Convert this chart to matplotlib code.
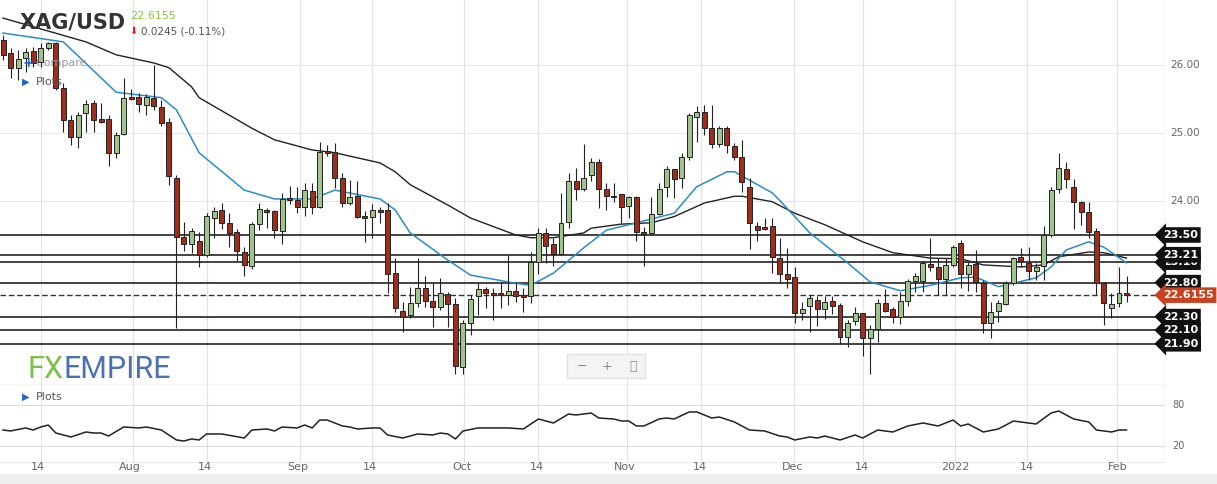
import matplotlib
matplotlib.use("Agg")
import matplotlib.pyplot as plt
from matplotlib.transforms import blended_transform_factory
import numpy as np

# daily XAG/USD candles, mid-Jul 2021 .. early Feb 2022
opens = [26.37, 26.18, 25.96, 26.10, 26.21, 26.04, 26.25, 26.32, 25.66, 25.19,
         24.94, 25.29, 25.44, 25.21, 25.21, 24.71, 24.99, 25.53, 25.53, 25.41,
         25.52, 25.38, 25.16, 24.34, 23.47, 23.37, 23.41, 23.21, 23.75, 23.87,
         23.68, 23.54, 23.25, 23.04, 23.66, 23.87, 23.85, 23.56, 24.04, 24.01,
         23.91, 24.15, 23.91, 24.74, 24.72, 24.34, 23.97, 24.07, 23.78, 23.76,
         23.87, 23.87, 22.94, 22.38, 22.32, 22.50, 22.72, 22.53, 22.44, 22.63,
         22.49, 21.56, 22.21, 22.60, 22.71, 22.65, 22.65, 22.62, 22.68, 22.62,
         22.60, 23.10, 23.53, 23.37, 23.22, 23.69, 24.29, 24.18, 24.38, 24.57,
         24.18, 24.07, 24.10, 23.93, 24.06, 23.54, 23.53, 23.81, 24.21, 24.47,
         24.34, 24.65, 25.24, 25.31, 25.07, 24.84, 25.07, 24.81, 24.65, 24.21,
         23.63, 23.62, 23.63, 23.16, 22.93, 22.88, 22.35, 22.46, 22.54, 22.41,
         22.53, 22.47, 22.00, 22.24, 22.35, 21.99, 22.12, 22.50, 22.41, 22.29,
         22.53, 22.82, 22.82, 23.07, 23.03, 22.85, 23.06, 23.38, 22.93, 23.07,
         22.79, 22.21, 22.38, 22.49, 22.79, 23.18, 23.09, 22.97, 23.04, 23.50,
         24.18, 24.47, 24.21, 23.99, 23.84, 23.56, 22.79, 22.43, 22.50, 22.63]
highs = [26.44, 26.25, 26.22, 26.25, 26.26, 26.32, 26.34, 26.34, 25.74, 25.26,
         25.31, 25.49, 25.49, 25.44, 25.26, 25.01, 25.81, 25.65, 25.59, 25.57,
         26.00, 25.49, 25.22, 24.38, 23.69, 23.60, 23.54, 23.82, 23.91, 23.97,
         23.82, 23.59, 23.32, 23.69, 23.97, 23.90, 23.87, 24.12, 24.22, 24.21,
         24.27, 24.27, 24.87, 24.82, 24.85, 24.41, 24.31, 24.29, 23.85, 23.96,
         23.91, 23.97, 23.16, 22.51, 22.74, 23.16, 22.90, 22.81, 22.87, 22.66,
         22.57, 22.25, 22.62, 22.81, 22.74, 22.72, 22.81, 23.21, 22.81, 22.72,
         23.25, 23.60, 23.60, 23.46, 24.12, 24.41, 24.49, 24.84, 24.63, 24.62,
         24.27, 24.27, 24.10, 24.07, 24.07, 23.62, 24.06, 24.27, 24.51, 24.47,
         24.71, 25.29, 25.40, 25.41, 25.41, 25.10, 25.10, 24.85, 24.90, 24.34,
         23.69, 23.75, 23.75, 23.46, 23.31, 23.03, 22.51, 22.62, 22.60, 22.60,
         22.60, 22.50, 22.25, 22.44, 22.35, 22.18, 22.56, 22.71, 22.44, 22.66,
         22.85, 22.94, 23.12, 23.46, 23.16, 23.16, 23.35, 23.43, 23.10, 23.28,
         22.84, 22.51, 22.54, 22.82, 23.18, 23.31, 23.32, 23.09, 23.63, 24.21,
         24.71, 24.57, 24.32, 24.00, 23.99, 23.60, 22.81, 22.65, 23.03, 22.90]
lows = [26.07, 25.81, 25.78, 25.90, 25.97, 25.97, 26.22, 25.63, 25.01, 24.82,
        24.78, 25.01, 25.01, 25.15, 24.51, 24.63, 24.97, 25.49, 25.31, 25.26,
        25.34, 25.10, 24.24, 22.13, 23.27, 23.24, 23.03, 23.18, 23.46, 23.59,
        23.32, 23.12, 22.90, 23.00, 23.57, 23.60, 23.46, 23.37, 23.96, 23.82,
        23.78, 23.81, 23.90, 24.66, 24.19, 23.91, 23.94, 23.75, 23.40, 23.46,
        23.68, 22.65, 22.37, 22.07, 22.28, 22.44, 22.44, 22.15, 22.40, 22.15,
        21.46, 21.46, 22.03, 22.32, 22.43, 22.25, 22.43, 22.47, 22.51, 22.37,
        22.50, 22.93, 23.09, 23.04, 23.21, 23.60, 24.01, 24.15, 24.29, 23.90,
        23.87, 23.99, 23.68, 23.75, 23.41, 23.04, 23.51, 23.79, 24.06, 24.04,
        24.19, 24.60, 24.87, 24.97, 24.78, 24.79, 24.71, 24.60, 24.13, 23.29,
        23.41, 23.57, 22.94, 22.79, 22.72, 22.21, 22.25, 22.07, 22.16, 22.26,
        22.34, 21.90, 21.85, 22.18, 21.72, 21.46, 21.93, 22.37, 22.21, 22.19,
        22.46, 22.66, 22.66, 22.97, 22.62, 22.62, 23.03, 22.72, 22.68, 22.66,
        22.06, 21.99, 22.22, 22.47, 22.76, 23.03, 22.84, 22.84, 22.84, 23.47,
        24.12, 24.19, 23.59, 23.65, 23.46, 22.62, 22.18, 22.28, 22.44, 22.51]
closes = [26.15, 25.96, 26.09, 26.19, 26.03, 26.25, 26.32, 25.66, 25.19, 24.94,
          25.26, 25.43, 25.19, 25.16, 24.71, 24.97, 25.52, 25.50, 25.43, 25.53,
          25.40, 25.15, 24.37, 23.47, 23.37, 23.56, 23.21, 23.78, 23.85, 23.68,
          23.53, 23.27, 23.06, 23.66, 23.88, 23.84, 23.57, 24.03, 24.01, 23.91,
          24.16, 23.91, 24.72, 24.71, 24.34, 23.97, 24.06, 23.76, 23.75, 23.87,
          23.84, 22.93, 22.43, 22.29, 22.50, 22.72, 22.53, 22.44, 22.65, 22.49,
          21.57, 22.21, 22.56, 22.71, 22.65, 22.62, 22.62, 22.68, 22.60, 22.59,
          23.10, 23.53, 23.34, 23.22, 23.68, 24.29, 24.18, 24.34, 24.57, 24.18,
          24.07, 24.06, 23.91, 24.06, 23.54, 23.51, 23.81, 24.18, 24.47, 24.32,
          24.65, 25.26, 25.31, 25.07, 24.84, 25.07, 24.82, 24.65, 24.28, 23.68,
          23.57, 23.59, 23.18, 22.93, 22.85, 22.35, 22.41, 22.57, 22.41, 22.51,
          22.46, 22.00, 22.21, 22.35, 21.99, 22.12, 22.50, 22.38, 22.29, 22.53,
          22.82, 22.90, 23.09, 23.03, 22.85, 23.06, 23.32, 22.93, 23.06, 22.81,
          22.21, 22.37, 22.50, 22.79, 23.16, 23.12, 22.97, 23.03, 23.50, 24.16,
          24.49, 24.32, 23.99, 23.84, 23.54, 22.79, 22.50, 22.49, 22.65, 22.62]

# moving averages, sampled at candle indices
ma_fast_idx = [0, 8, 15, 21, 23, 26, 32, 36, 41, 44, 50, 52, 54, 59, 62, 68, 70, 73, 77, 80,
               84, 89, 92, 96, 97, 102, 103, 107, 112, 115, 119, 123, 127, 129, 132, 137,
               139, 141, 144, 146, 149]
ma_fast = [26.47, 26.34, 25.60, 25.52, 25.34, 24.71, 24.16, 24.03, 24.03, 24.16, 24.03,
           23.87, 23.53, 23.13, 22.91, 22.79, 22.76, 22.94, 23.31, 23.57, 23.68, 23.82,
           24.21, 24.43, 24.43, 24.12, 24.01, 23.53, 23.09, 22.81, 22.68, 22.76, 22.87,
           22.88, 22.74, 22.87, 23.03, 23.28, 23.40, 23.32, 23.09]
ma_slow_idx = [0, 11, 15, 20, 22, 25, 26, 33, 36, 41, 44, 50, 52, 54, 59, 62, 68, 70, 73, 77,
               78, 82, 86, 89, 93, 97, 98, 102, 105, 109, 114, 118, 123, 127, 130, 135, 138,
               140, 144, 146, 149]
ma_slow = [26.69, 26.34, 26.15, 26.03, 25.96, 25.68, 25.52, 25.07, 24.90, 24.75, 24.71,
           24.56, 24.43, 24.24, 23.94, 23.75, 23.50, 23.46, 23.46, 23.53, 23.60, 23.66,
           23.68, 23.77, 23.97, 24.07, 24.07, 23.99, 23.82, 23.65, 23.40, 23.24, 23.16,
           23.15, 23.06, 23.03, 23.06, 23.18, 23.25, 23.24, 23.16]

# oscillator in lower pane
osc_idx = [0, 1, 3, 4, 5, 6, 7, 9, 11, 12, 13, 14, 16, 18, 19, 21, 23, 24, 25, 26,
           27, 29, 32, 33, 35, 36, 37, 39, 40, 41, 42, 43, 45, 46, 47, 49, 50, 51, 53, 55,
           57, 58, 59, 60, 61, 63, 65, 67, 69, 71, 73, 75, 76, 78, 79, 81, 82, 83, 84, 85,
           87, 88, 89, 91, 92, 94, 95, 97, 99, 101, 103, 104, 105, 107, 108, 109, 111, 113,
           114, 116, 118, 120, 122, 124, 126, 127, 128, 130, 132, 134, 135, 137, 139, 140,
           142, 144, 145, 147, 148, 149]
osc = [43.4, 42.0, 46.4, 43.4, 47.8, 50.7, 39.0, 33.2, 40.5, 39.0, 39.0, 34.6, 47.8, 46.4,
       47.8, 43.4, 28.8, 27.3, 30.3, 28.8, 37.6, 37.6, 31.7, 43.4, 44.9, 42.0, 47.8, 46.4,
       50.7, 46.4, 58.0, 58.0, 49.3, 47.8, 44.9, 46.4, 46.4, 36.1, 31.7, 37.6, 36.1, 39.0,
       37.6, 30.3, 42.0, 46.4, 46.4, 46.4, 44.9, 59.5, 53.7, 66.8, 65.4, 68.3, 61.0, 59.5,
       56.6, 56.6, 49.3, 49.3, 59.5, 61.0, 59.5, 69.8, 69.8, 61.0, 62.4, 55.1, 43.4, 42.0,
       34.6, 33.2, 28.8, 33.2, 31.7, 34.6, 28.8, 36.1, 31.7, 43.4, 40.5, 49.3, 53.7, 49.3,
       58.0, 49.3, 52.2, 40.5, 44.9, 56.6, 55.1, 52.2, 68.3, 71.2, 59.5, 55.1, 43.4, 40.5,
       43.4, 43.4]

levels = [23.50, 23.21, 23.10, 22.80, 22.30, 22.10, 21.90]
last_price = 22.6155

tick_pos = [5.0, 17.2, 27.1, 39.4, 48.9, 61.1, 71.0, 82.7, 92.6, 104.9, 114.0, 126.3, 135.8, 147.8]
tick_labels = ["14", "Aug", "14", "Sep", "14", "Oct", "14", "Nov", "14", "Dec", "14", "2022", "14", "Feb"]

W, H = 1217, 484
fig = plt.figure(figsize=(W / 100, H / 100), dpi=100)
fig.patch.set_facecolor("#eeeeee")
fig.patches.append(plt.Rectangle((0, 10 / H), 1, 1 - 10 / H, transform=fig.transFigure,
                                 facecolor="white", edgecolor="none", zorder=-5))

ax = fig.add_axes([0, (H - 385) / H, 1165 / W, 385 / H])
ax2 = fig.add_axes([0, (H - 463) / H, 1165 / W, 78 / H], sharex=ax)
ax.set_xlim(-0.4, 154.1)
ax.set_ylim(21.294, 26.956)
ax2.set_ylim(-4.9, 109.3)
for a in (ax, ax2):
    a.set_facecolor("none")
    for s in a.spines.values():
        s.set_visible(False)
    a.tick_params(left=False, right=False, bottom=False, top=False,
                  labelleft=False, labelbottom=False)
    for t in tick_pos:
        a.axvline(t, color="#e2e2e2", lw=0.8, zorder=0)
    a.axvline(154.1, color="#cccccc", lw=1)

for p in [26, 25, 24]:
    ax.axhline(p, color="#e8e8e8", lw=0.8, zorder=0)
ax.axhline(21.294, color="#cccccc", lw=1)
ax2.axhline(-4.9, color="#999999", lw=1)
for v in (80, 20):
    ax2.axhline(v, color="#dddddd", lw=0.8, zorder=0)

for lv in levels:
    ax.axhline(lv, color="#111111", lw=1.1, zorder=1)
ax.axhline(last_price, color="#333333", lw=1, ls=(0, (4, 2)), zorder=1)

ax.plot(ma_slow_idx, ma_slow, color="#222222", lw=1, zorder=2)
ax.plot(ma_fast_idx, ma_fast, color="#2b8cc4", lw=1.1, zorder=2)

o = np.array(opens)
c = np.array(closes)
x = np.arange(len(o))
up = c >= o
ax.vlines(x, lows, highs, color="#222222", lw=0.8, zorder=3)
body = np.maximum(np.abs(c - o), 0.02)
ax.bar(x, body, bottom=np.minimum(o, c), width=0.66,
       color=np.where(up, "#9fc48c", "#9c2f1b"), edgecolor="#222222", linewidth=0.7, zorder=4)

ax2.plot(osc_idx, osc, color="#222222", lw=1.1)

# right price axis
tr = blended_transform_factory(fig.transFigure, ax.transData)
for p in [26, 25, 24]:
    ax.text(1170 / W, p, "%.2f" % p, transform=tr, fontsize=7.5, color="#666666",
            va="center", ha="left", clip_on=False)
tags = [(23.50, "23.50"), (23.10, "23.10"), (23.21, "23.21"), (22.80, "22.80"),
        (22.30, "22.30"), (22.10, "22.10"), (21.90, "21.90")]
for p, s in tags:
    ax.text(1163 / W, p, s, transform=tr, fontsize=8, color="white", weight="bold",
            va="center", ha="left", clip_on=False, zorder=6,
            bbox=dict(boxstyle="larrow,pad=0.25", fc="#111111", ec="none"))
ax.text(1163 / W, last_price, "22.6155", transform=tr, fontsize=8, color="white",
        weight="bold", va="center", ha="left", clip_on=False, zorder=7,
        bbox=dict(boxstyle="larrow,pad=0.25", fc="#c9411d", ec="none"))

tr2 = blended_transform_factory(fig.transFigure, ax2.transData)
for v in (80, 20):
    ax2.text(1172 / W, v, str(v), transform=tr2, fontsize=7, color="#666666",
             va="center", ha="left", clip_on=False)

for t, s in zip(tick_pos, tick_labels):
    fig.text(t * 7.56 / W, (H - 467) / H, s, fontsize=8, color="#666666",
             ha="center", va="center")

# header / overlays
fig.text(20 / W, (H - 23) / H, "XAG/USD", fontsize=15, weight="bold", color="#333333",
         va="center", ha="left")
fig.text(130 / W, (H - 16) / H, "22.6155", fontsize=8, color="#8bc34a", va="center")
fig.text(129 / W, (H - 31) / H, "\u2B07", fontsize=7, color="#e02020", va="center")
fig.text(141 / W, (H - 31) / H, "0.0245 (-0.11%)", fontsize=7.5, color="#555555", va="center")
fig.text(22 / W, (H - 63) / H, "+", fontsize=10, color="#2266cc", weight="bold", va="center")
fig.text(36 / W, (H - 63) / H, "Compare ...", fontsize=8, color="#999999", va="center")
for yy in (82, 397):
    fig.text(22 / W, (H - yy) / H, "\u25B6", fontsize=7, color="#2266cc", va="center")
    fig.text(36 / W, (H - yy) / H, "Plots", fontsize=8, color="#555555", va="center")

fig.text(28 / W, (H - 369) / H, "FX", fontsize=22, color="#7cc04b", va="center",
         family="Roboto")
fig.text(63 / W, (H - 369) / H, "EMPIRE", fontsize=22, color="#4a72b0", va="center",
         family="Roboto")

fig.patches.append(plt.Rectangle((567 / W, (H - 378) / H), 78 / W, 24 / H,
                                 transform=fig.transFigure, facecolor="#f4f4f4",
                                 edgecolor="#e2e2e2", zorder=5))
for xx, s in ((582, "\u2212"), (607, "+"), (633, "\u26F6")):
    fig.text(xx / W, (H - 366) / H, s, fontsize=9, color="#888888", ha="center",
             va="center", zorder=6)

fig.savefig("out.png", dpi=100, facecolor=fig.get_facecolor())
